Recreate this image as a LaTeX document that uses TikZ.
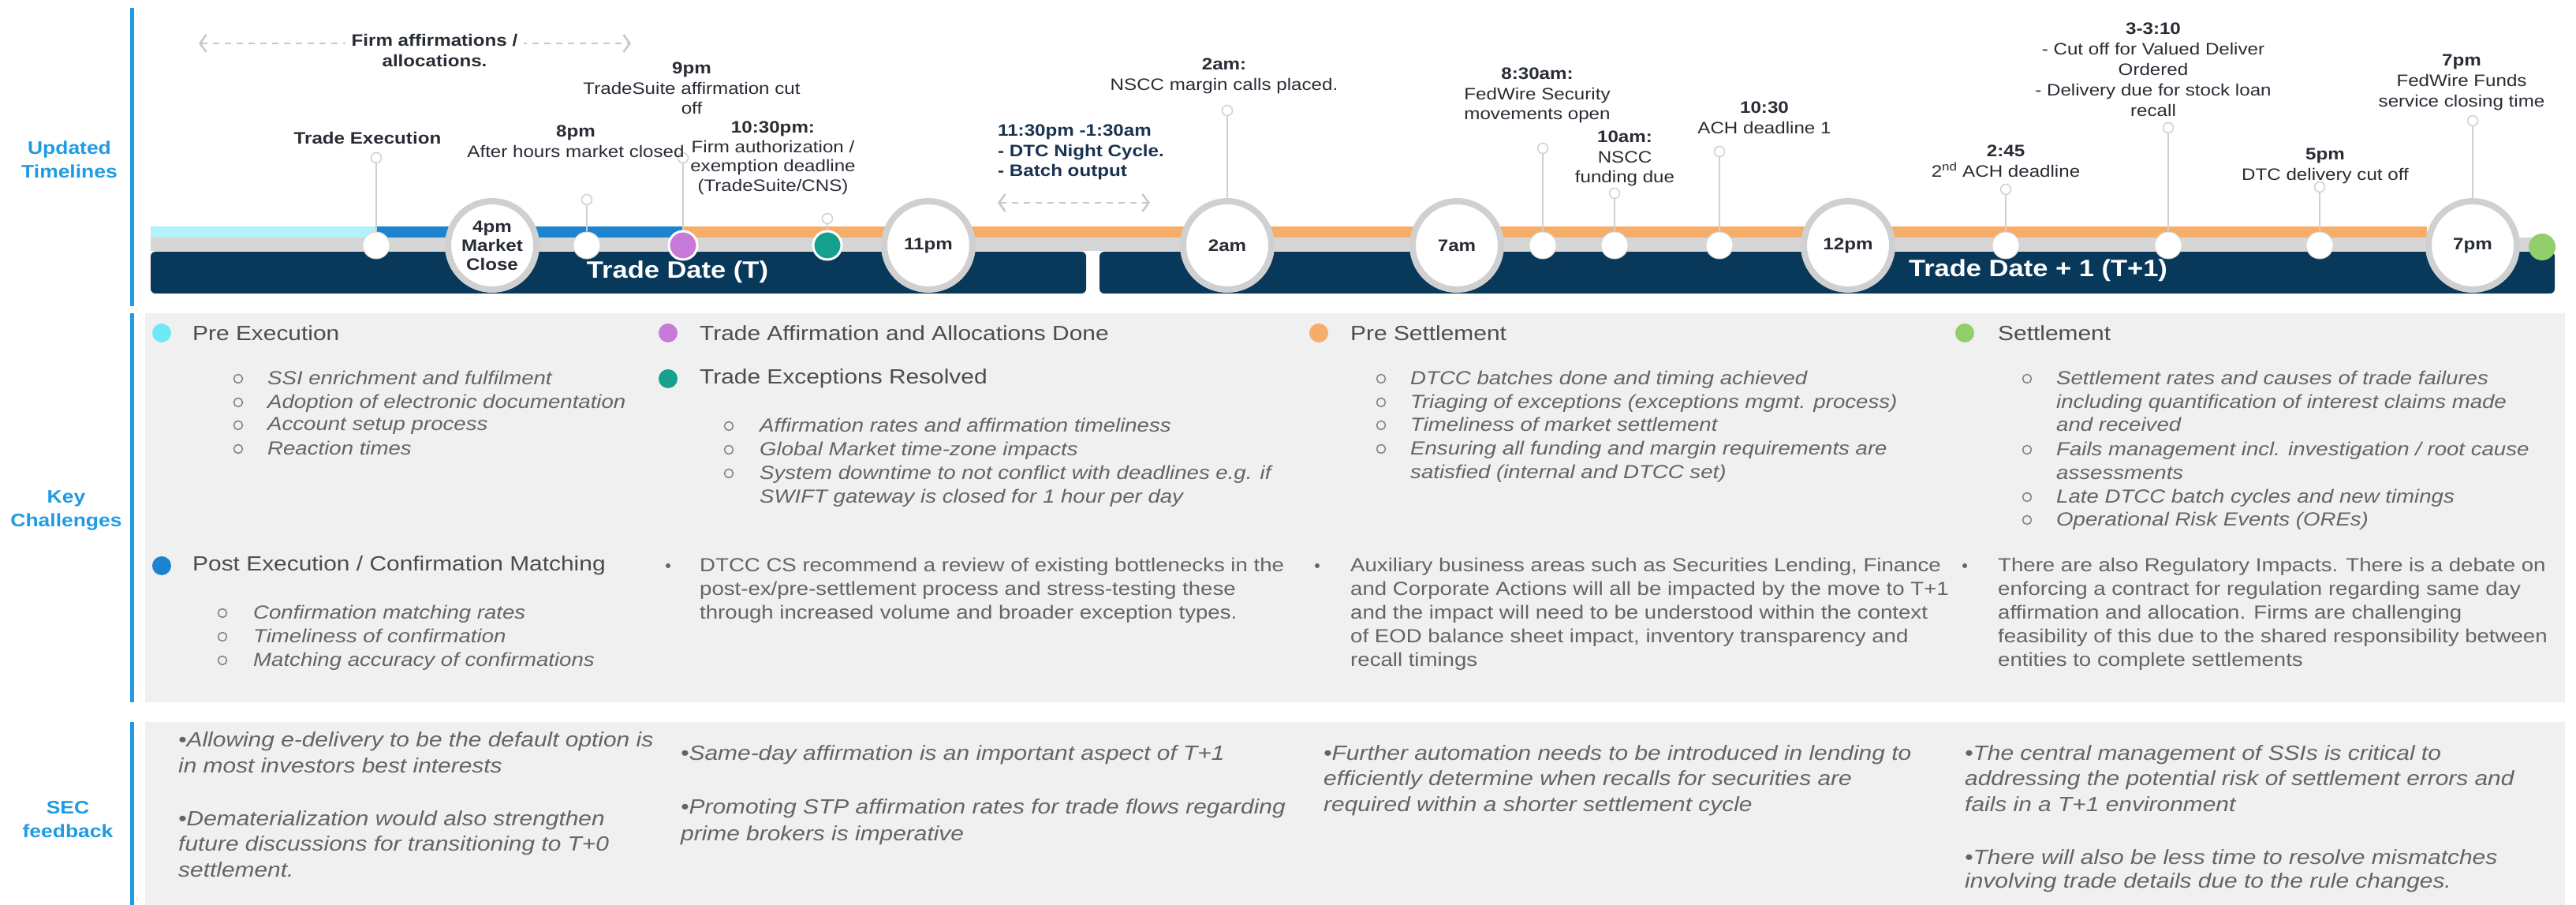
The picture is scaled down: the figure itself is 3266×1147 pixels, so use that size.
\documentclass[tikz,border=0pt]{standalone}
\usepackage{fontspec}
\setmainfont[FakeStretch=1.15]{Liberation Sans}
\usetikzlibrary{arrows.meta}
\definecolor{navybar}{RGB}{8,56,90}
\definecolor{sideblue}{RGB}{30,155,227}
\definecolor{execcyan}{RGB}{178,242,248}
\definecolor{cyandot}{RGB}{110,234,246}
\definecolor{postblue}{RGB}{28,132,206}
\definecolor{affpurple}{RGB}{200,122,216}
\definecolor{excteal}{RGB}{22,160,142}
\definecolor{presorange}{RGB}{246,173,106}
\definecolor{setgreen}{RGB}{146,206,108}
\definecolor{bandgray}{RGB}{214,214,214}
\definecolor{ringgray}{RGB}{208,208,208}
\definecolor{arrowgray}{RGB}{200,200,200}
\definecolor{panelgray}{RGB}{240,240,240}
\definecolor{bodygray}{RGB}{100,100,100}
\definecolor{markgray}{RGB}{130,130,130}
\definecolor{headgray}{RGB}{76,76,76}
\definecolor{labeldark}{RGB}{40,44,52}
\definecolor{nightnavy}{RGB}{24,50,80}

\begin{document}
\begin{tikzpicture}[x=1pt, y=-1pt,
        hour/.style={circle, draw=ringgray, line width=8pt, fill=white, minimum size=112pt, inner sep=0pt, align=center, text=labeldark, font=\fontsize{21}{24}\selectfont\bfseries},
        tick/.style={circle, draw=gray!30, line width=1pt, fill=white, minimum size=34pt, inner sep=0pt},
        dot/.style={circle, draw=white, line width=3pt, minimum size=36pt, inner sep=0pt},
        pin/.style={circle, draw=ringgray, line width=1.5pt, fill=white, minimum size=13pt, inner sep=0pt},
        stem/.style={draw=ringgray, line width=1.5pt},
        lbl/.style={anchor=north, yshift=9pt, inner sep=0pt, align=center, text=labeldark, font=\fontsize{21}{25.5}\selectfont},
        dasharrow/.style={draw=arrowgray, line width=2.5pt, dash pattern=on 8pt off 7pt, {Straight Barb[length=8pt,width=22pt]}-{Straight Barb[length=8pt,width=22pt]}},
        side/.style={align=center, inner sep=0pt, text=sideblue, font=\fontsize{23}{30}\selectfont\bfseries},
        sideline/.style={draw=sideblue, line width=5pt},
        datelbl/.style={inner sep=0pt, text=white, font=\fontsize{30}{36}\selectfont\bfseries},
        keydot/.style={circle, minimum size=24pt, inner sep=0pt},
        subdot/.style={circle, draw=markgray, line width=1.5pt, minimum size=11pt, inner sep=0pt},
        bul/.style={circle, fill=bodygray, minimum size=6pt, inner sep=0pt},
        head/.style={anchor=west, inner sep=0pt, text=headgray, font=\fontsize{26}{30}\selectfont},
        item/.style={anchor=north west, yshift=10pt, inner sep=0pt, align=left, text=bodygray, font=\fontsize{24}{29.5}\selectfont\itshape},
        body/.style={item, font=\fontsize{24}{30}\selectfont},
        sec/.style={item, yshift=1pt, font=\fontsize{26}{33}\selectfont\itshape},
    ]
    \useasboundingbox (0,0) rectangle (3266,1147);

    % panels and side rule
    \fill[panelgray] (184,397) rectangle (3252,890);
    \fill[panelgray] (184,915) rectangle (3252,1147);
    \draw[sideline] (167,10) -- (167,388);
    \draw[sideline] (167,397) -- (167,890);
    \draw[sideline] (167,915) -- (167,1147);
    \node[side] (ut) at (88,202) {Updated\\Timelines};
    \node[side] (kc) at (84,647) {Key\\Challenges};
    \node[side] (sf) at (86,1039) {SEC\\feedback};

    % timeline bands
    \fill[execcyan] (191,287) rectangle (477,301);
    \fill[postblue] (477,287) rectangle (866,301);
    \fill[presorange] (866,287) rectangle (3077,301);
    \fill[bandgray] (191,301) rectangle (3215,318);
    \fill[navybar, rounded corners=6pt] (191,319) rectangle (1377,372);
    \fill[navybar, rounded corners=6pt] (1394,319) rectangle (3239,372);
    \node[datelbl] (tdt) at (859,345) {Trade Date (T)};
    \node[datelbl] (tdt1) at (2584,343) {Trade Date + 1 (T+1)};

    % markers on the bar
    \node[tick] (te) at (477,311) {};
    \node[hour] (close) at (624,311) {4pm\\Market\\Close};
    \node[tick] (ah) at (744,311) {};
    \node[dot, fill=affpurple] (aff) at (866,311) {};
    \node[dot, fill=excteal] (exc) at (1049,311) {};
    \node[hour] (h11pm) at (1177,311) {11pm};
    \node[hour] (h2am) at (1556,311) {2am};
    \node[hour] (h7am) at (1847,311) {7am};
    \node[tick] (fw) at (1956,311) {};
    \node[tick] (nf) at (2047,311) {};
    \node[tick] (ach1) at (2180,311) {};
    \node[hour] (h12pm) at (2343,311) {12pm};
    \node[tick] (ach2) at (2543,311) {};
    \node[tick] (vdo) at (2749,311) {};
    \node[tick] (dtc) at (2941,311) {};
    \node[hour] (h7pm) at (3135,311) {7pm};
    \node[dot, fill=setgreen, draw=none, minimum size=34pt] (set) at (3223,313) {};

    % pins
    \node[pin] (te-p) at (477,200) {};
    \node[pin] (ah-p) at (744,253) {};
    \node[pin] (aff-p) at (866,200) {};
    \node[pin] (exc-p) at (1049,277) {};
    \node[pin] (h2am-p) at (1556,140) {};
    \node[pin] (fw-p) at (1956,188) {};
    \node[pin] (nf-p) at (2047,245) {};
    \node[pin] (ach1-p) at (2180,192) {};
    \node[pin] (ach2-p) at (2543,240) {};
    \node[pin] (vdo-p) at (2749,162) {};
    \node[pin] (dtc-p) at (2941,237) {};
    \node[pin] (h7pm-p) at (3135,153) {};
    \draw[stem] (te) -- (te-p);
    \draw[stem] (ah) -- (ah-p);
    \draw[stem] (aff) -- (aff-p);
    \draw[stem] (exc) -- (exc-p);
    \draw[stem] (h2am) -- (h2am-p);
    \draw[stem] (fw) -- (fw-p);
    \draw[stem] (nf) -- (nf-p);
    \draw[stem] (ach1) -- (ach1-p);
    \draw[stem] (ach2) -- (ach2-p);
    \draw[stem] (vdo) -- (vdo-p);
    \draw[stem] (dtc) -- (dtc-p);
    \draw[stem] (h7pm) -- (h7pm-p);

    % timeline labels
    \coordinate (fa-w) at (252,55);
    \coordinate (fa-e) at (800,55);
    \draw[dasharrow] (fa-w) -- (fa-e);
    \node[lbl, fill=white, inner xsep=8pt, font=\fontsize{21}{26}\selectfont\bfseries] (fa) at (551,52) {Firm affirmations /\\allocations.};
    \node[lbl, font=\fontsize{21}{25.5}\selectfont\bfseries] (te-l) at (466,176) {Trade Execution};
    \node[lbl] (ah-l) at (730,168) {\textbf{8pm}\\After hours market closed};
    \node[lbl] (aff-l) at (877,88) {\textbf{9pm}\\TradeSuite affirmation cut\\off};
    \node[lbl, font=\fontsize{21}{24.5}\selectfont] (exc-l) at (980,163) {\textbf{10:30pm:}\\Firm authorization /\\exemption deadline\\(TradeSuite/CNS)};
    \node[lbl, anchor=north west, align=left, text=nightnavy, font=\fontsize{21}{25.5}\selectfont\bfseries] (night) at (1265,167) {11:30pm -1:30am\\- DTC Night Cycle.\\- Batch output};
    \coordinate (nc-w) at (1265,257);
    \coordinate (nc-e) at (1458,257);
    \draw[dasharrow] (nc-w) -- (nc-e);
    \node[lbl] (h2am-l) at (1552,83) {\textbf{2am:}\\NSCC margin calls placed.};
    \node[lbl] (fw-l) at (1949,95) {\textbf{8:30am:}\\FedWire Security\\movements open};
    \node[lbl] (nf-l) at (2060,175) {\textbf{10am:}\\NSCC\\funding due};
    \node[lbl] (ach1-l) at (2237,138) {\textbf{10:30}\\ACH deadline 1};
    \node[lbl] (ach2-l) at (2543,193) {\textbf{2:45}\\2\textsuperscript{nd} ACH deadline};
    \node[lbl, font=\fontsize{21}{26}\selectfont] (vdo-l) at (2730,38) {\textbf{3-3:10}\\- Cut off for Valued Deliver\\Ordered\\- Delivery due for stock loan\\recall};
    \node[lbl] (dtc-l) at (2948,197) {\textbf{5pm}\\DTC delivery cut off};
    \node[lbl, font=\fontsize{21}{26}\selectfont] (h7pm-l) at (3121,78) {\textbf{7pm}\\FedWire Funds\\service closing time};

    % key challenges, first row
    \node[keydot, fill=cyandot] (pe-d) at (205,422) {};
    \node[head] (pe) at (244,422) {Pre Execution};
    \node[subdot] (pe1-m) at (302,480) {};
    \node[item] (pe1) at (339,480) {SSI enrichment and fulfilment};
    \node[subdot] (pe2-m) at (302,510) {};
    \node[item] (pe2) at (339,510) {Adoption of electronic documentation};
    \node[subdot] (pe3-m) at (302,539) {};
    \node[item] (pe3) at (339,539) {Account setup process};
    \node[subdot] (pe4-m) at (302,569) {};
    \node[item] (pe4) at (339,569) {Reaction times};

    \node[keydot, fill=affpurple] (ta-d) at (847,422) {};
    \node[head] (ta) at (887,422) {Trade Affirmation and Allocations Done};
    \node[keydot, fill=excteal] (tx-d) at (847,480) {};
    \node[head] (tx) at (887,480) {Trade Exceptions Resolved};
    \node[subdot] (tx1-m) at (924,540) {};
    \node[item] (tx1) at (963,540) {Affirmation rates and affirmation timeliness};
    \node[subdot] (tx2-m) at (924,570) {};
    \node[item] (tx2) at (963,570) {Global Market time-zone impacts};
    \node[subdot] (tx3-m) at (924,600) {};
    \node[item] (tx3) at (963,600) {System downtime to not conflict with deadlines e.g. if\\SWIFT gateway is closed for 1 hour per day};

    \node[keydot, fill=presorange] (ps-d) at (1672,422) {};
    \node[head] (ps) at (1712,422) {Pre Settlement};
    \node[subdot] (ps1-m) at (1751,480) {};
    \node[item] (ps1) at (1788,480) {DTCC batches done and timing achieved};
    \node[subdot] (ps2-m) at (1751,510) {};
    \node[item] (ps2) at (1788,510) {Triaging of exceptions (exceptions mgmt. process)};
    \node[subdot] (ps3-m) at (1751,539) {};
    \node[item] (ps3) at (1788,539) {Timeliness of market settlement};
    \node[subdot] (ps4-m) at (1751,569) {};
    \node[item] (ps4) at (1788,569) {Ensuring all funding and margin requirements are\\satisfied (internal and DTCC set)};

    \node[keydot, fill=setgreen] (st-d) at (2491,422) {};
    \node[head] (st) at (2533,422) {Settlement};
    \node[subdot] (st1-m) at (2570,480) {};
    \node[item] (st1) at (2607,480) {Settlement rates and causes of trade failures\\including quantification of interest claims made\\and received};
    \node[subdot] (st2-m) at (2570,570) {};
    \node[item] (st2) at (2607,570) {Fails management incl. investigation / root cause\\assessments};
    \node[subdot] (st3-m) at (2570,630) {};
    \node[item] (st3) at (2607,630) {Late DTCC batch cycles and new timings};
    \node[subdot] (st4-m) at (2570,659) {};
    \node[item] (st4) at (2607,659) {Operational Risk Events (OREs)};

    % key challenges, second row
    \node[keydot, fill=postblue] (po-d) at (205,717) {};
    \node[head] (po) at (244,717) {Post Execution / Confirmation Matching};
    \node[subdot] (po1-m) at (282,777) {};
    \node[item] (po1) at (321,777) {Confirmation matching rates};
    \node[subdot] (po2-m) at (282,807) {};
    \node[item] (po2) at (321,807) {Timeliness of confirmation};
    \node[subdot] (po3-m) at (282,837) {};
    \node[item] (po3) at (321,837) {Matching accuracy of confirmations};

    \node[bul] (cs-m) at (847,717) {};
    \node[body] (cs) at (887,717) {DTCC CS recommend a review of existing bottlenecks in the\\post-ex/pre-settlement process and stress-testing these\\through increased volume and broader exception types.};
    \node[bul] (ax-m) at (1670,717) {};
    \node[body] (ax) at (1712,717) {Auxiliary business areas such as Securities Lending, Finance\\and Corporate Actions will all be impacted by the move to T+1\\and the impact will need to be understood within the context\\of EOD balance sheet impact, inventory transparency and\\recall timings};
    \node[bul] (rg-m) at (2491,717) {};
    \node[body] (rg) at (2533,717) {There are also Regulatory Impacts. There is a debate on\\enforcing a contract for regulation regarding same day\\affirmation and allocation. Firms are challenging\\feasibility of this due to the shared responsibility between\\entities to complete settlements};

    % SEC feedback
    \node[sec] (sec1) at (226,938) {•Allowing e-delivery to be the default option is\\in most investors best interests};
    \node[sec, font=\fontsize{26}{32.5}\selectfont\itshape] (sec2) at (226,1038) {•Dematerialization would also strengthen\\future discussions for transitioning to T+0\\settlement.};
    \node[sec] (sec3) at (863,955) {•Same-day affirmation is an important aspect of T+1};
    \node[sec, font=\fontsize{26}{34}\selectfont\itshape] (sec4) at (863,1023) {•Promoting STP affirmation rates for trade flows regarding\\prime brokers is imperative};
    \node[sec, font=\fontsize{26}{32.5}\selectfont\itshape] (sec5) at (1678,955) {•Further automation needs to be introduced in lending to\\efficiently determine when recalls for securities are\\required within a shorter settlement cycle};
    \node[sec, font=\fontsize{26}{32.5}\selectfont\itshape] (sec6) at (2491,955) {•The central management of SSIs is critical to\\addressing the potential risk of settlement errors and\\fails in a T+1 environment};
    \node[sec, font=\fontsize{26}{30}\selectfont\itshape] (sec7) at (2491,1087) {•There will also be less time to resolve mismatches\\involving trade details due to the rule changes.};
\end{tikzpicture}
\end{document}
